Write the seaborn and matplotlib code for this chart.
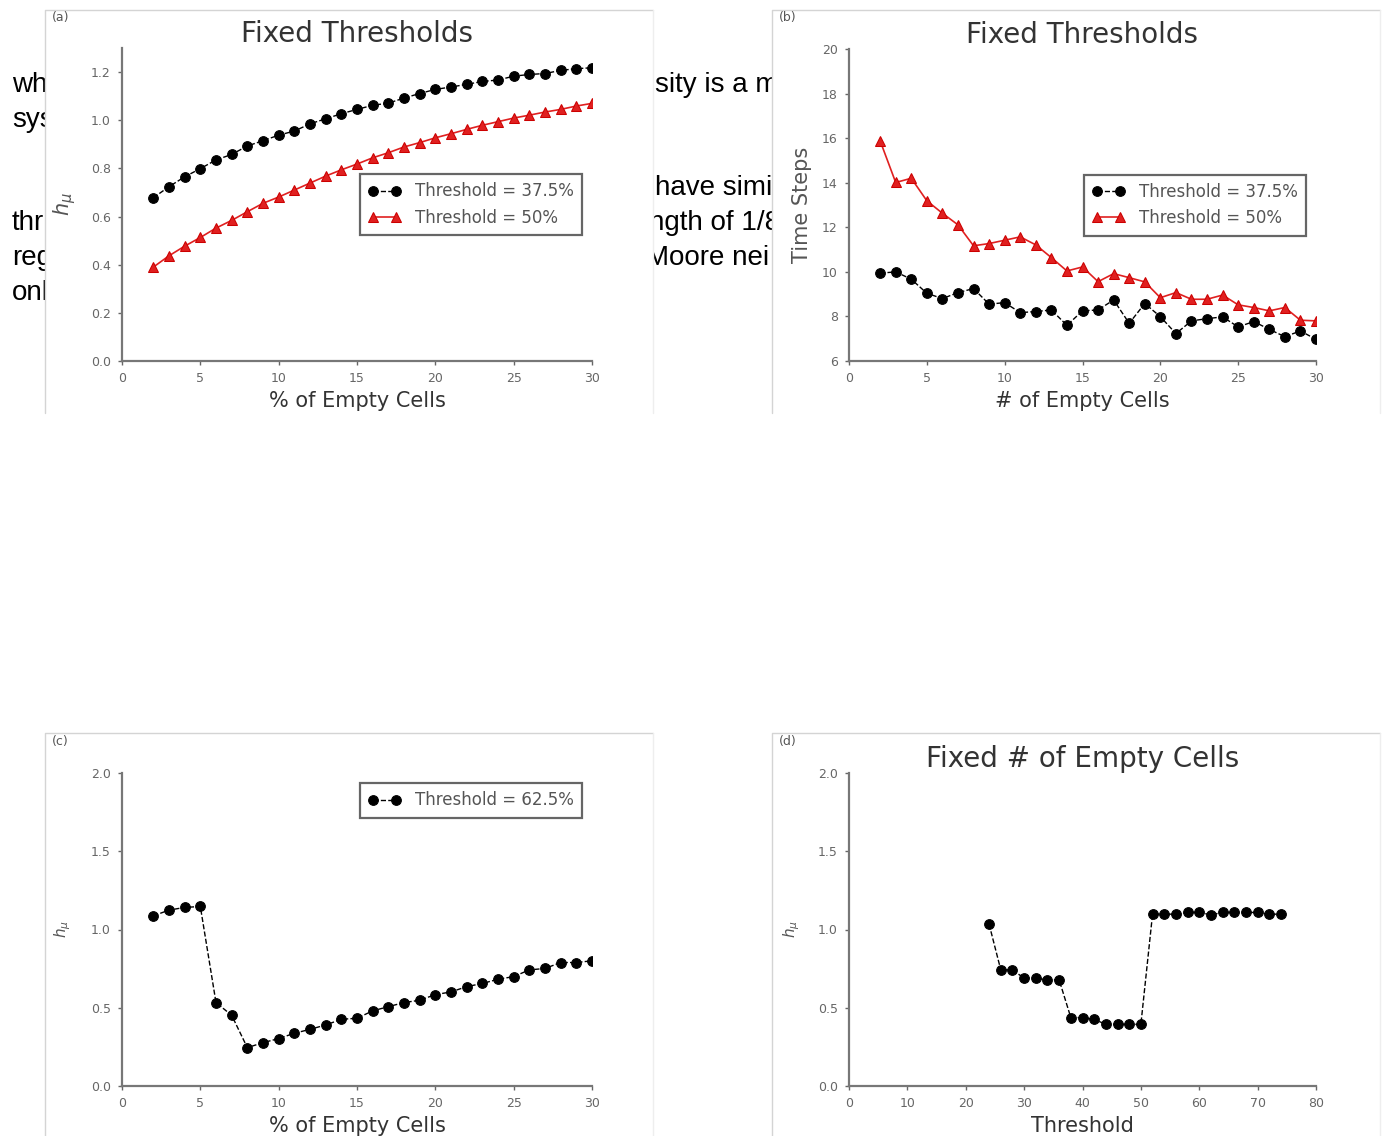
import matplotlib
matplotlib.use("Agg")
import matplotlib.pyplot as plt
from matplotlib.patches import Rectangle
from matplotlib.lines import Line2D
import seaborn as sns

# data
pct_empty = list(range(2, 31))
h_thr375 = [0.678, 0.724, 0.765, 0.799, 0.835, 0.858, 0.893, 0.915, 0.938, 0.955,
            0.985, 1.006, 1.027, 1.045, 1.062, 1.071, 1.092, 1.111, 1.128, 1.138,
            1.149, 1.161, 1.167, 1.183, 1.190, 1.194, 1.207, 1.214, 1.218]
h_thr50 = [0.390, 0.437, 0.477, 0.513, 0.552, 0.584, 0.620, 0.655, 0.681, 0.710,
           0.739, 0.768, 0.794, 0.818, 0.844, 0.865, 0.889, 0.907, 0.927, 0.944,
           0.962, 0.979, 0.994, 1.009, 1.021, 1.034, 1.045, 1.059, 1.070]

n_empty = list(range(2, 31))
steps_thr375 = [9.94, 10.0, 9.67, 9.04, 8.80, 9.07, 9.25, 8.55, 8.62, 8.17,
                8.22, 8.29, 7.60, 8.25, 8.29, 8.74, 7.69, 8.58, 7.99, 7.23,
                7.80, 7.90, 7.98, 7.53, 7.77, 7.42, 7.09, 7.35, 6.97]
steps_thr50 = [15.88, 14.01, 14.2, 13.19, 12.63, 12.11, 11.17, 11.27, 11.42, 11.57,
               11.21, 10.64, 10.04, 10.22, 9.56, 9.92, 9.74, 9.55, 8.84, 9.07,
               8.77, 8.77, 8.96, 8.52, 8.40, 8.25, 8.40, 7.83, 7.80]

h_thr625 = [1.087, 1.124, 1.141, 1.147, 0.533, 0.452, 0.245, 0.277, 0.303, 0.337,
            0.362, 0.390, 0.426, 0.433, 0.480, 0.507, 0.533, 0.548, 0.584, 0.601,
            0.635, 0.655, 0.682, 0.699, 0.742, 0.751, 0.789, 0.789, 0.800]

thresholds = list(range(24, 75, 2))
h_fixed = [1.034, 0.742, 0.742, 0.689, 0.689, 0.678, 0.678, 0.437, 0.437, 0.426,
           0.394, 0.394, 0.394, 0.394, 1.098, 1.098, 1.098, 1.109, 1.109, 1.094,
           1.109, 1.109, 1.109, 1.109, 1.098, 1.098]

# stray document text showing behind the panels (only the visible bits)
doc_left = ["wh", "sys", "thr", "reg", "onl"]
doc_left_y = [85, 120, 223, 258, 293]
doc_mid = ["sity is a m", "have simi", "ngth of 1/8", "Moore nei"]
doc_mid_x = [655, 655, 649, 646]
doc_mid_y = [85, 188, 223, 258]

sns.set_style("ticks")
plt.rcParams["font.family"] = ["DejaVu Sans"]

W, H = 1384, 1136
fig = plt.figure(figsize=(W / 100, H / 100), dpi=100)


def fx(px):
    return px / W


def fy(py):
    return 1 - py / H


for s, y in zip(doc_left, doc_left_y):
    fig.text(fx(12), fy(y), s, fontsize=20, family="Liberation Sans",
             va="center", ha="left", color="black", zorder=0.1)
for s, x, y in zip(doc_mid, doc_mid_x, doc_mid_y):
    fig.text(fx(x), fy(y), s, fontsize=20, family="Liberation Sans",
             va="center", ha="left", color="black", zorder=0.1)

# panel frames (white cards)
panels = {"a": (45, 10, 653, 413), "b": (772, 10, 1380, 413),
          "c": (45, 733, 653, 1140), "d": (772, 733, 1380, 1140)}
for key, (x0, y0, x1, y1) in panels.items():
    fig.add_artist(Rectangle((fx(x0), fy(y1)), fx(x1) - fx(x0), fy(y0) - fy(y1),
                             transform=fig.transFigure, facecolor="white",
                             edgecolor="none", zorder=0.5))
    fig.add_artist(Line2D([fx(x0), fx(x0), fx(x1)], [fy(y1), fy(y0), fy(y0)],
                          transform=fig.transFigure, color="#d4d4d4", lw=1, zorder=0.6))
    fig.add_artist(Line2D([fx(x1), fx(x1)], [fy(y0), fy(y1)],
                          transform=fig.transFigure, color="#eeeeee", lw=1, zorder=0.6))
    fig.text(fx(x0 + 7), fy(y0 + 8), f"({key})", fontsize=9, color="#555555",
             va="center", ha="left", zorder=2)

spine_col = "#777777"
tick_col = "#666666"
text_col = "#333333"


def make_ax(left, bottom, right, top):
    ax = fig.add_axes([fx(left), fy(bottom), fx(right) - fx(left), fy(top) - fy(bottom)])
    ax.set_zorder(1)
    ax.set_facecolor("white")
    sns.despine(ax=ax)
    for sp in ("left", "bottom"):
        ax.spines[sp].set_color(spine_col)
        ax.spines[sp].set_linewidth(1.6)
    ax.tick_params(colors=tick_col, labelsize=9, length=3, width=1, pad=5)
    return ax


def style_legend(ax, loc):
    leg = ax.legend(loc=loc, numpoints=2, fontsize=12, fancybox=False,
                    framealpha=1, borderpad=0.5, handlelength=2.0,
                    labelcolor="#555555", borderaxespad=0.6)
    leg.get_frame().set_edgecolor("#666666")
    leg.get_frame().set_linewidth(1.6)


black_kw = dict(color="black", marker="o", markersize=7, markeredgecolor="black",
                linestyle="--", linewidth=1.0, estimator=None, sort=False)
red_kw = dict(color="#e02020", marker="^", markersize=6.5, markeredgecolor="#cc0000",
              linestyle="-", linewidth=1.2, estimator=None, sort=False)

title_kw = dict(fontsize=20, color=text_col, pad=4)
xlab_kw = dict(fontsize=15, color=text_col)

# (a)
ax = make_ax(122, 361, 592, 48)
sns.lineplot(x=pct_empty, y=h_thr375, ax=ax, label="Threshold = 37.5%", **black_kw)
sns.lineplot(x=pct_empty, y=h_thr50, ax=ax, label="Threshold = 50%", **red_kw)
ax.set_xlim(0, 30)
ax.set_ylim(0, 1.3)
ax.set_xticks(range(0, 31, 5))
ax.set_yticks([0.0, 0.2, 0.4, 0.6, 0.8, 1.0, 1.2])
ax.set_yticklabels(["0.0", "0.2", "0.4", "0.6", "0.8", "1.0", "1.2"])
ax.set_title("Fixed Thresholds", **title_kw)
ax.set_xlabel("% of Empty Cells", **xlab_kw)
ax.xaxis.set_label_coords(0.5, -0.095)
ax.set_ylabel(r"$h_\mu$", fontsize=15, color="#555555")
ax.yaxis.set_label_coords(-0.094, 0.5)
style_legend(ax, "center right")

# (b)
ax = make_ax(849, 361, 1316, 49)
sns.lineplot(x=n_empty, y=steps_thr375, ax=ax, label="Threshold = 37.5%", **black_kw)
sns.lineplot(x=n_empty, y=steps_thr50, ax=ax, label="Threshold = 50%", **red_kw)
ax.set_xlim(0, 30)
ax.set_ylim(6, 20)
ax.set_xticks(range(0, 31, 5))
ax.set_yticks(range(6, 21, 2))
ax.set_title("Fixed Thresholds", **title_kw)
ax.set_xlabel("# of Empty Cells", **xlab_kw)
ax.xaxis.set_label_coords(0.5, -0.095)
ax.set_ylabel("Time Steps", fontsize=15, color="#555555")
ax.yaxis.set_label_coords(-0.08, 0.5)
style_legend(ax, "center right")

# (c)
ax = make_ax(122, 1086, 592, 773)
sns.lineplot(x=pct_empty, y=h_thr625, ax=ax, label="Threshold = 62.5%", **black_kw)
ax.set_xlim(0, 30)
ax.set_ylim(0, 2.0)
ax.set_xticks(range(0, 31, 5))
ax.set_yticks([0.0, 0.5, 1.0, 1.5, 2.0])
ax.set_yticklabels(["0.0", "0.5", "1.0", "1.5", "2.0"])
ax.set_xlabel("% of Empty Cells", **xlab_kw)
ax.xaxis.set_label_coords(0.5, -0.095)
ax.set_ylabel(r"$h_\mu$", fontsize=11, color="#555555")
ax.yaxis.set_label_coords(-0.104, 0.5)
style_legend(ax, "upper right")

# (d)
ax = make_ax(849, 1086, 1316, 773)
sns.lineplot(x=thresholds, y=h_fixed, ax=ax, **black_kw)
ax.set_xlim(0, 80)
ax.set_ylim(0, 2.0)
ax.set_xticks(range(0, 81, 10))
ax.set_yticks([0.0, 0.5, 1.0, 1.5, 2.0])
ax.set_yticklabels(["0.0", "0.5", "1.0", "1.5", "2.0"])
ax.set_title("Fixed # of Empty Cells", **title_kw)
ax.set_xlabel("Threshold", **xlab_kw)
ax.xaxis.set_label_coords(0.5, -0.095)
ax.set_ylabel(r"$h_\mu$", fontsize=11, color="#555555")
ax.yaxis.set_label_coords(-0.100, 0.5)
if ax.get_legend() is not None:
    ax.get_legend().remove()

fig.savefig("out.png", dpi=100)
